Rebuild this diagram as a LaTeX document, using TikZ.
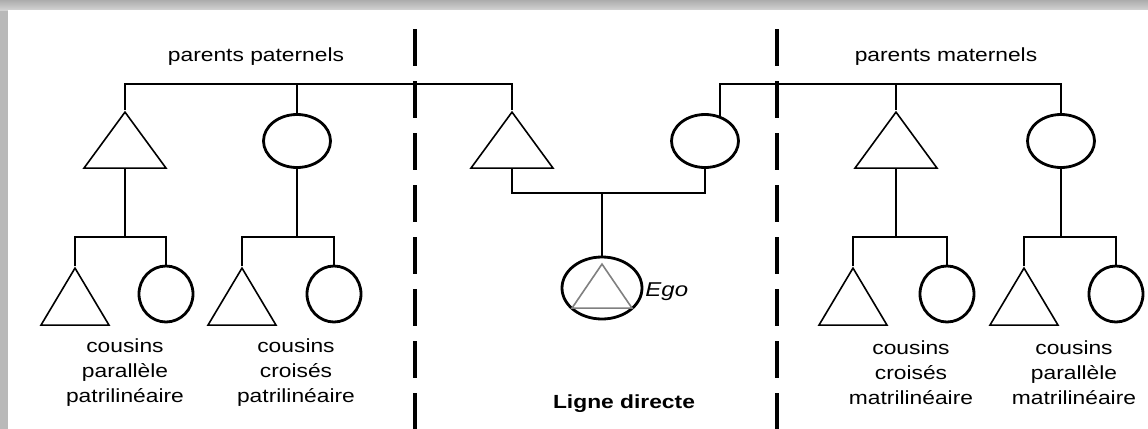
\documentclass[tikz,border=0pt]{standalone}
\usepackage{fontspec}
\setmainfont{Liberation Sans}[FakeStretch=1.2]
\usepackage{tikz}
\usetikzlibrary{shapes.geometric}
\tikzset{
male/.style=
    { % triangle, point up
        draw,
        isosceles triangle,
        isosceles triangle stretches,
        shape border rotate=90,
        inner sep=0pt,
        minimum width=41pt, % base
        minimum height=28pt, % apex to base
        line width=0.8pt
    },
female/.style=
    { % circle (ellipse)
        draw,
        ellipse,
        inner sep=0pt,
        minimum width=33.5pt,
        minimum height=26.5pt,
        line width=1.4pt
    },
child/.style={minimum width=34pt, minimum height=28.5pt}, % smaller triangles
kid/.style={minimum width=27pt, minimum height=28pt}, % smaller circles
kin/.style={line width=1pt}, % family lines
sep/.style={line width=2pt, dash pattern=on 18.5pt off 7.5pt}, % dashed separators
txt/.style={font=\fontsize{9.5}{12.5}\selectfont, align=center, inner sep=0pt}
}

\begin{document}
\begin{tikzpicture}[x=0.5pt,y=-0.5pt]
\useasboundingbox (0,0) rectangle (1148,429);
% frame
\fill[gray!55] (0,0) rectangle (1148,429);
\shade[top color=gray!65, bottom color=gray!35] (0,0) rectangle (1148,10);
\fill[white] (8,10) rectangle (1148,429);

% separators
\draw[sep] (415,29) -- (415,429);
\draw[sep] (777,29) -- (777,429);

% parents
\node [male,anchor=apex] (p1) at (125,110) {};
\node [female]           (p2) at (297,141) {};
\node [male,anchor=apex] (p3) at (512,110) {};
\node [female]           (p4) at (705,141) {};
\node [male,anchor=apex] (p5) at (896,110) {};
\node [female]           (p6) at (1061,141) {};

% ego
\node [female,minimum width=40pt,minimum height=31pt] (e) at (602,288) {};
\node [male,anchor=apex,draw=gray,minimum width=30pt,minimum height=22pt] (et) at (602,262) {};

% cousins
\node [male,child,anchor=apex] (c1) at (75,266) {};
\node [female,kid]             (c2) at (166,294) {};
\node [male,child,anchor=apex] (c3) at (242,266) {};
\node [female,kid]             (c4) at (334,294) {};
\node [male,child,anchor=apex] (c5) at (853,266) {};
\node [female,kid]             (c6) at (947,294) {};
\node [male,child,anchor=apex] (c7) at (1024,266) {};
\node [female,kid]             (c8) at (1116,294) {};

% bars
\coordinate (fp) at (297,84);
\coordinate (fm) at (896,84);
\coordinate (fe) at (602,193);
\coordinate (f1) at (125,237);
\coordinate (f2) at (297,237);
\coordinate (f5) at (896,237);
\coordinate (f6) at (1061,237);

\draw[kin] (p1.apex) |- (fp) -| (p3.apex);
\draw[kin] (fp) -- (p2.north);
\draw[kin] (p4.60) |- (fm) -| (p6.north);
\draw[kin] (fm) -- (p5.apex);
\draw[kin] (p3.lower side) |- (fe) -| (p4.south);
\draw[kin] (fe) -- (e.north);

\draw[kin] (p1.lower side) -- (f1);
\draw[kin] (c1.apex) |- (f1) -| (c2.north);
\draw[kin] (p2.south) -- (f2);
\draw[kin] (c3.apex) |- (f2) -| (c4.north);
\draw[kin] (p5.lower side) -- (f5);
\draw[kin] (c5.apex) |- (f5) -| (c6.north);
\draw[kin] (p6.south) -- (f6);
\draw[kin] (c7.apex) |- (f6) -| (c8.north);

% labels
\node [txt] (tp) at (256,57) {parents paternels};
\node [txt] (tm) at (946,57) {parents maternels};
\node [txt,anchor=west,font=\fontsize{10}{12}\selectfont\itshape] (te) at (645,292) {Ego};
\node [txt,font=\fontsize{9.5}{12}\selectfont\bfseries] (tl) at (624,404) {Ligne directe};
\node [txt] (l1) at (125,373) {cousins\\parallèle\\patrilinéaire};
\node [txt] (l2) at (296,373) {cousins\\croisés\\patrilinéaire};
\node [txt] (l3) at (911,373) {cousins\\croisés\\matrilinéaire};
\node [txt] (l4) at (1074,373) {cousins\\parallèle\\matrilinéaire};
\end{tikzpicture}
\end{document}
